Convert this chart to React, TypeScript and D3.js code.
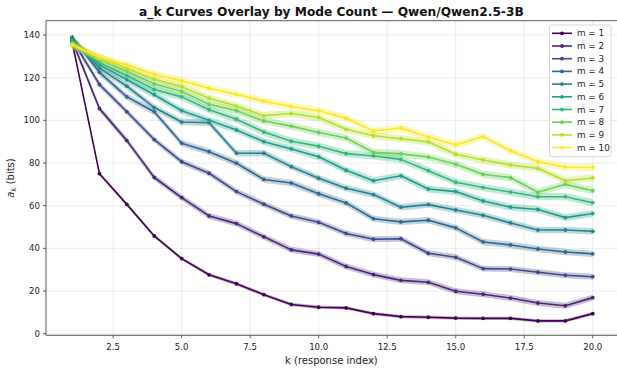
import React from "react";
import * as d3 from "d3";

const kValues = [1, 2, 3, 4, 5, 6, 7, 8, 9, 10, 11, 12, 13, 14, 15, 16, 17, 18, 19, 20];
const modeCounts = [1, 2, 3, 4, 5, 6, 7, 8, 9, 10];

const m1 = [137, 75, 60.6, 45.8, 35.2, 27.6, 23.4, 18.3, 13.7, 12.4, 12.1, 9.4, 8.0, 7.7, 7.3, 7.2, 7.2, 6.0, 6.0, 9.4];
const m2 = [137.5, 105.5, 90.5, 73.2, 63.8, 55.2, 51.6, 45.4, 39.3, 37.3, 31.5, 27.7, 25.0, 24.1, 19.9, 18.5, 16.7, 14.4, 13.1, 16.9];
const m3 = [138, 116.8, 104, 91, 80.6, 75.2, 66.6, 60.7, 55.2, 52.2, 47.0, 44.3, 44.5, 37.7, 35.8, 30.5, 30.3, 28.8, 27.4, 26.7];
const m4 = [139, 122.5, 111, 104, 89.3, 85.3, 79.9, 72.3, 70.6, 65.6, 61.3, 53.9, 52.4, 53.2, 49.6, 43.0, 41.6, 39.7, 38.3, 37.4];
const m5 = [138.5, 124.5, 116, 106, 99.2, 98.9, 84.6, 84.6, 78.3, 72.9, 68.2, 65.2, 59.3, 60.5, 58.0, 55.5, 51.9, 48.6, 48.6, 48.0];
const m6 = [137.5, 126, 119, 112, 104.5, 100, 95.5, 90, 86.6, 82.9, 76.6, 71.7, 74.0, 67.8, 66.6, 62.2, 59.3, 58.2, 54.4, 56.3];
const m7 = [136.5, 127, 121, 114.5, 111, 105, 100.5, 94.5, 90.2, 87.9, 84.4, 83.3, 81.7, 76.4, 71.0, 68.5, 66.4, 64.2, 64.2, 61.4];
const m8 = [136, 128.5, 123, 117, 113.5, 107.5, 104.5, 99.7, 97.3, 94.3, 91.7, 85.0, 84.3, 82.8, 79.4, 74.7, 73.1, 66.3, 70.0, 67.0];
const m9 = [135, 129.5, 124.4, 119.3, 115.8, 110.4, 106.7, 102.2, 103.2, 101.3, 95.8, 92.8, 91.4, 89.9, 84.1, 81.4, 79.1, 77.5, 71.7, 73.0];
const m10 = [135.5, 129.5, 126, 121.6, 118.5, 115, 112.2, 109.0, 106.5, 104.5, 101, 95, 96.4, 92.2, 88.5, 92.4, 85.7, 80.6, 78.1, 78.0];
const seriesValues = [m1, m2, m3, m4, m5, m6, m7, m8, m9, m10];
// half-width of the shaded uncertainty band per series (bits)
const bandHalfWidth = [0.8, 1.4, 1.4, 1.5, 1.5, 1.6, 1.7, 1.7, 1.7, 1.7];

const xTicks = [2.5, 5.0, 7.5, 10.0, 12.5, 15.0, 17.5, 20.0];
const yTicks = [0, 20, 40, 60, 80, 100, 120, 140];

const W = 617;
const H = 369;
const left = 46;
const right = 618.8;
const top = 20.7;
const bottom = 335.3;
const FONT = "DejaVu Sans, sans-serif";

export default function App() {
  const x = d3.scaleLinear().domain([0.05, 20.95]).range([left, right]);
  const y = d3.scaleLinear().domain([-0.75, 146.7]).range([bottom, top]);
  const color = (i: number) => d3.interpolateViridis(i / (modeCounts.length - 1));

  const line = d3
    .line<number>()
    .x((_, i) => x(kValues[i]))
    .y((v) => y(v));

  const area = (hw: number) =>
    d3
      .area<number>()
      .x((_, i) => x(kValues[i]))
      .y0((v) => y(v - hw))
      .y1((v) => y(v + hw));

  const legendX = 549.5;
  const legendY = 25;
  const legendW = 61.5;
  const legendH = 131.7;
  const rowH = 12.7;

  return (
    <svg
      width={W}
      height={H}
      style={{ position: "absolute", left: 0, top: 0, background: "#fff" }}
      fontFamily={FONT}
    >
      <defs>
        <clipPath id="plotclip">
          <rect x={left} y={top} width={right - left} height={bottom - top} />
        </clipPath>
      </defs>
      <rect x={0} y={0} width={W} height={H} fill="#fff" />
      {/* grid */}
      <g stroke="#b0b0b0" strokeOpacity={0.3} strokeWidth={0.8}>
        {xTicks.map((t) => (
          <line key={"gx" + t} x1={x(t)} x2={x(t)} y1={top} y2={bottom} />
        ))}
        {yTicks.map((t) => (
          <line key={"gy" + t} x1={left} x2={right} y1={y(t)} y2={y(t)} />
        ))}
      </g>
      {/* series */}
      <g clipPath="url(#plotclip)">
        {seriesValues.map((vals, si) => (
          <g key={"s" + si}>
            <path d={area(bandHalfWidth[si])(vals) || ""} fill={color(si)} fillOpacity={0.3} stroke="none" />
            <path d={line(vals) || ""} fill="none" stroke={color(si)} strokeWidth={1.6} strokeLinejoin="round" />
            {vals.map((v, i) => (
              <circle key={i} cx={x(kValues[i])} cy={y(v)} r={1.9} fill={color(si)} />
            ))}
          </g>
        ))}
      </g>
      {/* spines */}
      <g stroke="#333" strokeWidth={0.8} fill="none">
        <line x1={left} x2={left} y1={top} y2={bottom} />
        <line x1={left} x2={right} y1={bottom} y2={bottom} />
        <line x1={left} x2={right} y1={top} y2={top} />
        <line x1={right} x2={right} y1={top} y2={bottom} />
      </g>
      {/* ticks */}
      <g stroke="#333" strokeWidth={0.8}>
        {xTicks.map((t) => (
          <line key={"tx" + t} x1={x(t)} x2={x(t)} y1={bottom} y2={bottom + 3} />
        ))}
        {yTicks.map((t) => (
          <line key={"ty" + t} x1={left - 3} x2={left} y1={y(t)} y2={y(t)} />
        ))}
      </g>
      <g fontSize={8.6} fill="#222">
        {xTicks.map((t) => (
          <text key={"lx" + t} x={x(t)} y={349.5} textAnchor="middle">
            {t.toFixed(1)}
          </text>
        ))}
        {yTicks.map((t) => (
          <text key={"ly" + t} x={40} y={y(t)} textAnchor="end" dominantBaseline="central">
            {t}
          </text>
        ))}
      </g>
      {/* axis labels */}
      <text x={(left + right) / 2 - 1} y={364} textAnchor="middle" fontSize={10} fill="#222">
        k (response index)
      </text>
      <text
        transform={`translate(14, ${(top + bottom) / 2}) rotate(-90)`}
        textAnchor="middle"
        fontSize={10}
        fill="#222"
      >
        <tspan fontStyle="italic">a</tspan>
        <tspan fontStyle="italic" fontSize={7} dy={2}>k</tspan>
        <tspan dy={-2}> (bits)</tspan>
      </text>
      {/* title */}
      <text x={(left + right) / 2 - 1} y={15.5} textAnchor="middle" fontSize={12.2} fontWeight="bold" fill="#111">
        a_k Curves Overlay by Mode Count — Qwen/Qwen2.5-3B
      </text>
      {/* legend */}
      <g>
        <rect
          x={legendX}
          y={legendY}
          width={legendW}
          height={legendH}
          rx={2}
          fill="#fff"
          fillOpacity={0.8}
          stroke="#ccc"
          strokeWidth={0.8}
        />
        {modeCounts.map((m, i) => {
          const cy = legendY + 8.3 + i * rowH;
          return (
            <g key={"lg" + m}>
              <line x1={552} x2={572} y1={cy} y2={cy} stroke={color(i)} strokeWidth={1.6} />
              <circle cx={562} cy={cy} r={1.9} fill={color(i)} />
              <text x={577} y={cy} dominantBaseline="central" fontSize={8.8} fill="#222">
                {`m = ${m}`}
              </text>
            </g>
          );
        })}
      </g>
    </svg>
  );
}
